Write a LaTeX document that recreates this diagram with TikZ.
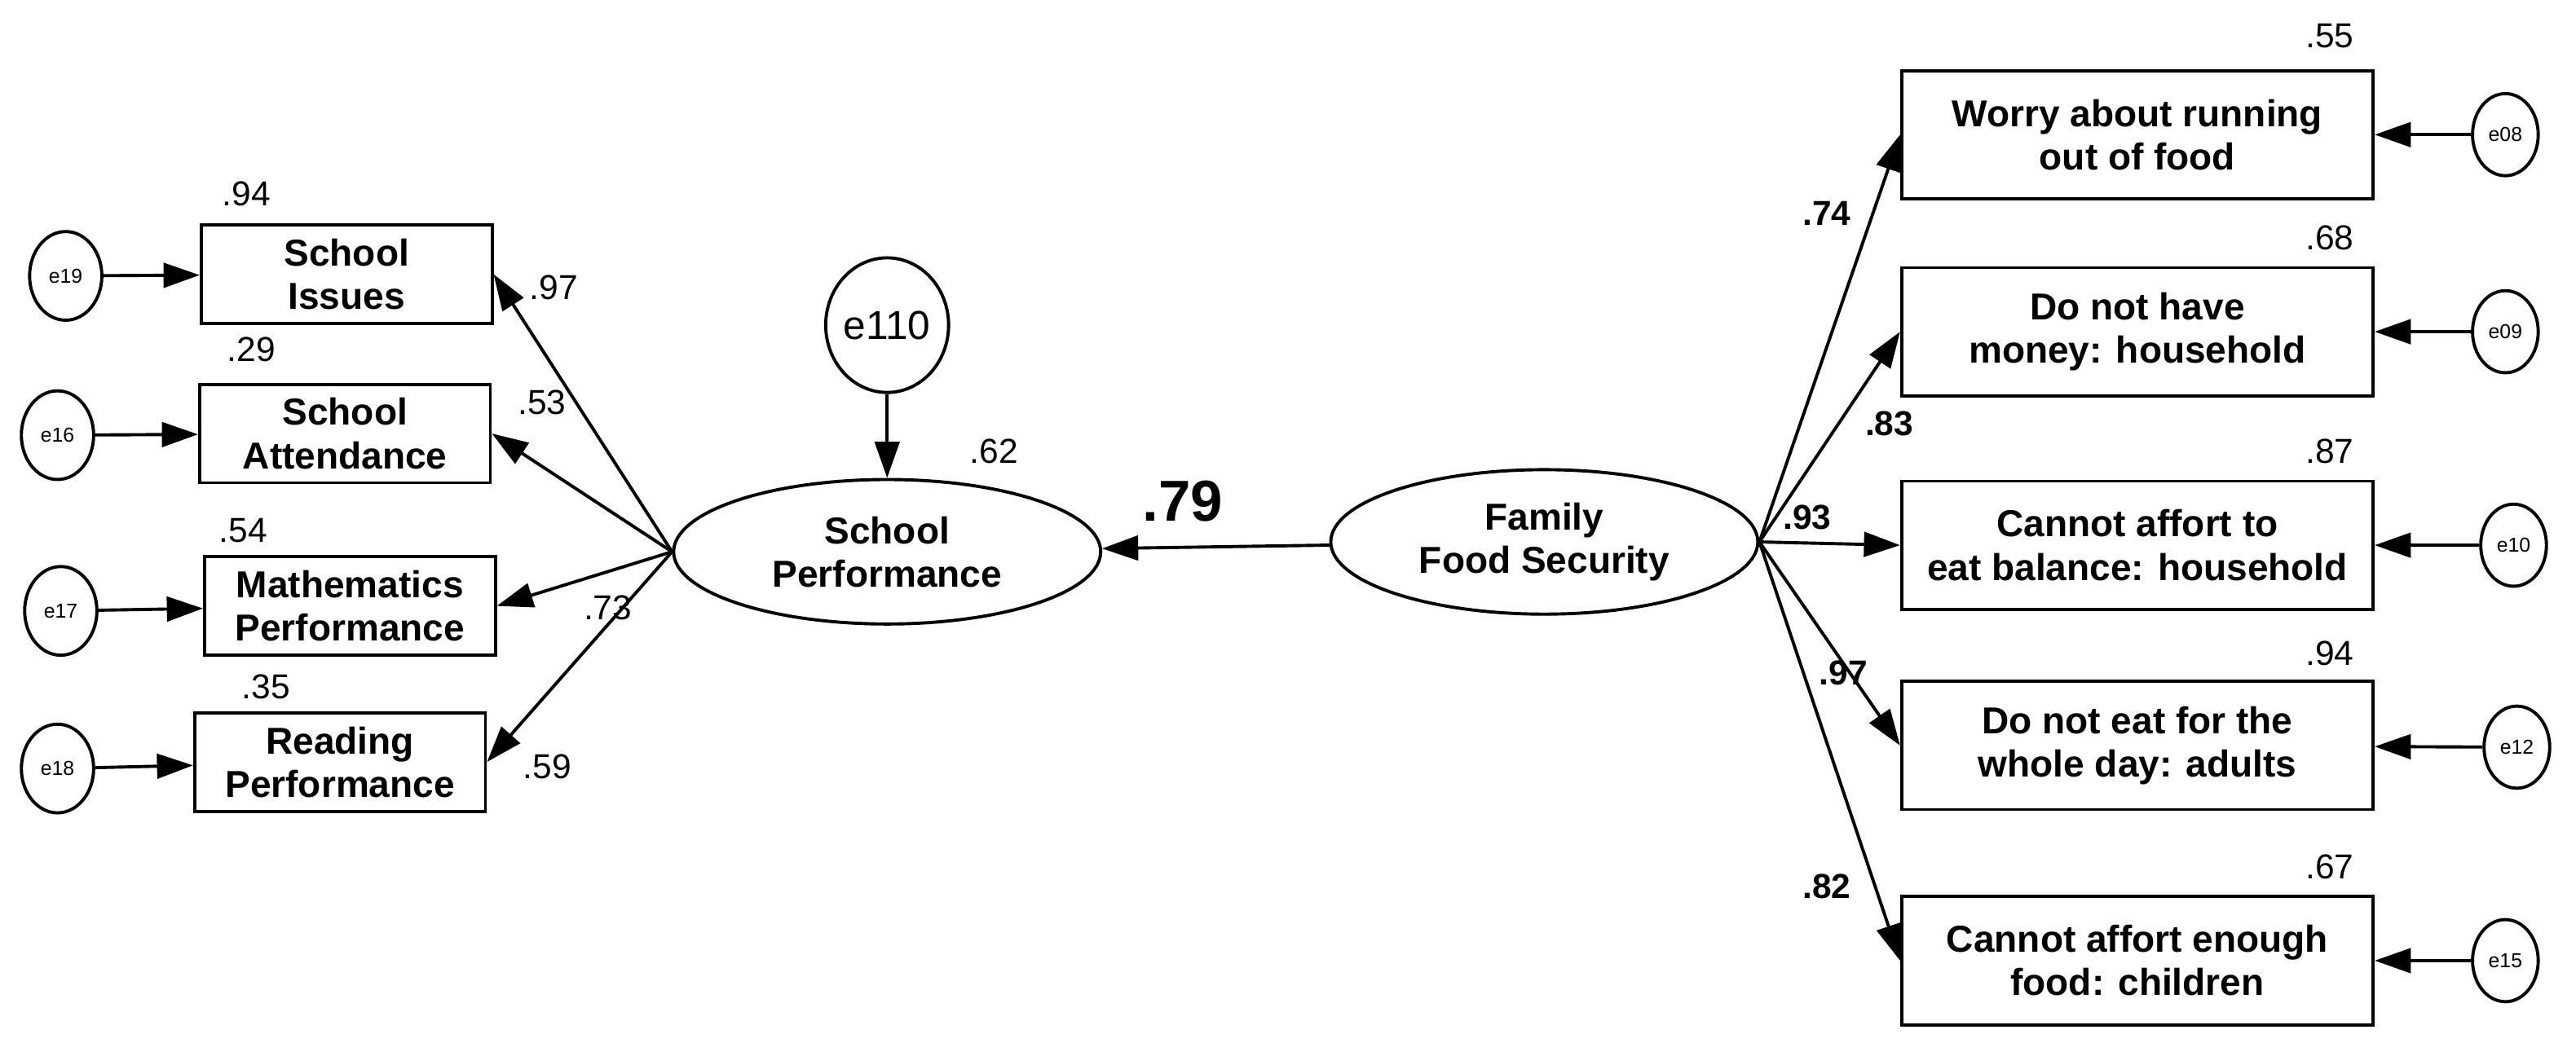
\documentclass[tikz,border=0pt]{standalone}
\usepackage{fontspec}
\setmainfont{Liberation Sans}
\usetikzlibrary{arrows.meta,shapes.geometric}
\tikzset{
  box/.style={draw,line width=1.1pt,align=center,font=\fontsize{13}{15}\selectfont\bfseries,inner sep=0pt},
  lbox/.style={box,minimum width=3.54cm,minimum height=1.2cm},
  rbox/.style={box,minimum width=5.74cm,minimum height=1.56cm},
  lat/.style={ellipse,draw,line width=1.1pt,align=center,font=\fontsize{13}{15}\selectfont\bfseries,minimum width=5.2cm,minimum height=1.76cm,inner sep=0pt},
  err/.style={ellipse,draw,line width=1.1pt,font=\fontsize{7}{8}\selectfont,minimum width=0.88cm,minimum height=1.08cm,inner sep=0pt},
  rerr/.style={err,minimum width=0.8cm,minimum height=1cm},
  num/.style={font=\fontsize{12}{14}\selectfont},
  bnum/.style={font=\fontsize{12}{14}\selectfont\bfseries},
  arr/.style={-{Triangle[length=0.44cm,width=0.3cm]},line width=1.1pt},
}
\begin{document}
\begin{tikzpicture}[x=0.02cm,y=-0.02cm]
  \useasboundingbox (0,0) rectangle (1568,643);
  % latent variables
  \node[lat] (sp) at (540,336) {School\\Performance};
  \node[lat] (ffs) at (940,330) {Family\\Food Security};
  \node[err,minimum width=1.36cm,minimum height=1.64cm,font=\fontsize{14}{16}\selectfont] (e110) at (540,198) {e110};
  \node[num] at (605,275) {.62};
  % left indicators
  \node[lbox] (si) at (211,167) {School\\Issues};
  \node[lbox] (sa) at (210,264) {School\\Attendance};
  \node[lbox] (mp) at (213,369) {Mathematics\\Performance};
  \node[lbox] (rp) at (207,464) {Reading\\Performance};
  \node[err] (e19) at (40,168) {e19};
  \node[err] (e16) at (35,265) {e16};
  \node[err] (e17) at (37,372) {e17};
  \node[err] (e18) at (35,468) {e18};
  \node[num] at (150,118) {.94};
  \node[num] at (153,213) {.29};
  \node[num] at (148,323) {.54};
  \node[num] at (162,418) {.35};
  \node[num] at (337,175) {.97};
  \node[num] at (330,245) {.53};
  \node[num] at (370,370) {.73};
  \node[num] at (333,467) {.59};
  % right indicators
  \node[rbox] (wr) at (1301,82) {Worry about running\\out of food};
  \node[rbox] (dm) at (1301,202) {Do not have\\money: household};
  \node[rbox] (cb) at (1301,332) {Cannot affort to\\eat balance: household};
  \node[rbox] (dd) at (1301,454) {Do not eat for the\\whole day: adults};
  \node[rbox] (ce) at (1301,585) {Cannot affort enough\\food: children};
  \node[rerr] (e08) at (1525,82) {e08};
  \node[rerr] (e09) at (1525,202) {e09};
  \node[rerr] (e10) at (1530,332) {e10};
  \node[rerr] (e12) at (1532,455) {e12};
  \node[rerr] (e15) at (1525,585) {e15};
  \node[num] at (1418,22) {.55};
  \node[num] at (1418,145) {.68};
  \node[num] at (1418,275) {.87};
  \node[num] at (1418,398) {.94};
  \node[num] at (1418,528) {.67};
  \node[bnum] at (1112,130) {.74};
  \node[bnum] at (1150,258) {.83};
  \node[bnum] at (1100,315) {.93};
  \node[bnum] at (1122,410) {.97};
  \node[bnum] at (1112,540) {.82};
  \node[font=\fontsize{20}{22}\selectfont\bfseries] at (720,305) {.79};
  % paths
  \draw[arr] (ffs) -- (sp);
  \draw[arr] (e110) -- (sp);
  \foreach \b in {si,sa,mp,rp} \draw[arr] (sp.west) -- (\b.east);
  \foreach \e/\b in {e19/si,e16/sa,e17/mp,e18/rp} \draw[arr] (\e) -- (\b);
  \foreach \b in {wr,dm,cb,dd,ce} \draw[arr] (ffs.east) -- (\b.west);
  \foreach \e/\b in {e08/wr,e09/dm,e10/cb,e12/dd,e15/ce} \draw[arr] (\e) -- (\b);
\end{tikzpicture}
\end{document}
